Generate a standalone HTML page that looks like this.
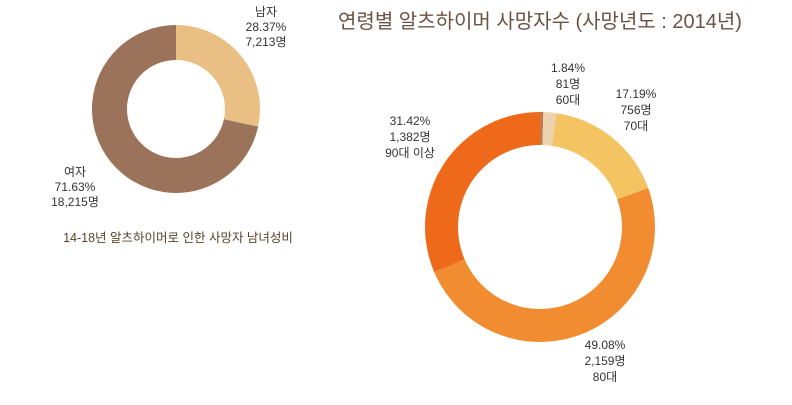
<!DOCTYPE html>
<html><head><meta charset="utf-8"><style>
body{margin:0;background:#fff;}
svg text{font-family:"Liberation Sans","Noto Sans CJK KR",sans-serif;}
</style></head><body>
<svg width="792" height="400" viewBox="0 0 792 400">
<text x="540" y="28" text-anchor="middle" font-size="20" fill="#6b5343">연령별 알츠하이머 사망자수 (사망년도 : 2014년)</text>
<text x="178" y="242" text-anchor="middle" font-size="12.5" fill="#5a4328">14-18년 알츠하이머로 인한 사망자 남녀성비</text>
<g id="left"></g><g id="right"></g>
<g font-size="12" fill="#333" text-anchor="middle">
<text x="266" y="16"><tspan x="266">남자</tspan><tspan x="266" dy="15">28.37%</tspan><tspan x="266" dy="15">7,213명</tspan></text>
<text x="75" y="176"><tspan x="75">여자</tspan><tspan x="75" dy="15">71.63%</tspan><tspan x="75" dy="15">18,215명</tspan></text>
<text x="568" y="72"><tspan x="568">1.84%</tspan><tspan x="568" dy="16">81명</tspan><tspan x="568" dy="16">60대</tspan></text>
<text x="636" y="98"><tspan x="636">17.19%</tspan><tspan x="636" dy="16">756명</tspan><tspan x="636" dy="16">70대</tspan></text>
<text x="410" y="125"><tspan x="410">31.42%</tspan><tspan x="410" dy="16">1,382명</tspan><tspan x="410" dy="16">90대 이상</tspan></text>
<text x="605" y="349"><tspan x="605">49.08%</tspan><tspan x="605" dy="16">2,159명</tspan><tspan x="605" dy="16">80대</tspan></text>
</g>
</svg>
<script>
const genderCats=["남자","여자"];
const genderVals=[28.37,71.63];
const genderColors=["#e9bf84","#9b735a"];
const ageCats=["50대 이하","60대","70대","80대","90대 이상"];
const ageVals=[0.47,1.84,17.19,49.08,31.42];
const ageColors=["#c07a50","#ecd2ad","#f4c462","#f18c30","#ee6a1a"];
function donut(g,cx,cy,ro,ri,vals,cols,names){
  const tot=vals.reduce((a,b)=>a+b,0);let a0=-Math.PI/2;
  vals.forEach((v,i)=>{
    const a1=a0+v/tot*2*Math.PI,lg=(a1-a0)>Math.PI?1:0;
    const p=(r,a)=>(cx+r*Math.cos(a)).toFixed(2)+","+(cy+r*Math.sin(a)).toFixed(2);
    const d="M"+p(ro,a0)+"A"+ro+","+ro+" 0 "+lg+" 1 "+p(ro,a1)+"L"+p(ri,a1)+"A"+ri+","+ri+" 0 "+lg+" 0 "+p(ri,a0)+"Z";
    const el=document.createElementNS("http://www.w3.org/2000/svg","path");
    el.setAttribute("d",d);el.setAttribute("fill",cols[i]);
    
    
    g.appendChild(el);a0=a1;
  });
}
donut(document.getElementById("left"),176,109,84,49,genderVals,genderColors,genderCats);
donut(document.getElementById("right"),540,227,115,82,ageVals,ageColors,ageCats);
</script>
</body></html>
